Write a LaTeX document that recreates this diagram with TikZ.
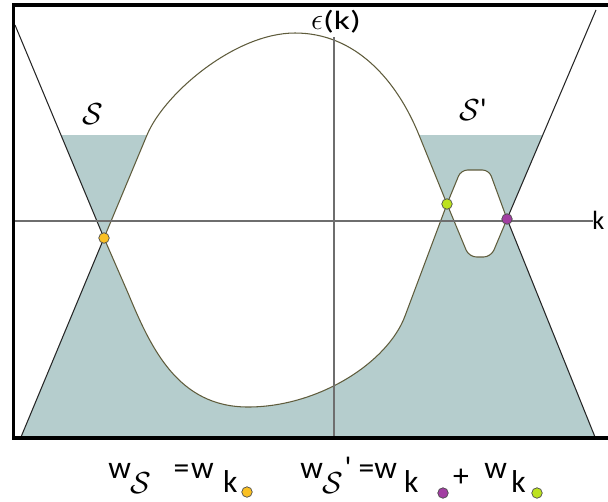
\documentclass[tikz,border=0pt]{standalone}
\usepackage{graphicx}
\usepackage{fontspec}
\setmainfont{Carlito}
\definecolor{shadegrey}{RGB}{181,205,205}
\definecolor{bandline}{RGB}{95,92,60}
\definecolor{axisgrey}{RGB}{110,110,110}
\definecolor{dotorange}{RGB}{250,192,35}
\definecolor{dotgreen}{RGB}{188,226,30}
\definecolor{dotpurple}{RGB}{162,62,162}
\newcommand\calS{\raisebox{-9pt}{\fontsize{17}{18}\selectfont$\mathcal{S}$}}
\newcommand\lowk{\raisebox{-8.5pt}{k}}
\tikzset{
  band/.style={draw=bandline,line width=0.6pt},
  outer/.style={draw=black!85,line width=0.6pt},
  axisline/.style={draw=axisgrey,line width=0.9pt},
  frameline/.style={draw=black,line width=1.8pt},
  spot/.style={circle,draw=black!70,line width=0.4pt,inner sep=0pt,minimum size=2.1mm},
  weight/.style={anchor=base west,inner sep=0pt,font=\fontsize{18}{20}\selectfont},
}
\begin{document}
\begin{tikzpicture}[x=0.02cm,y=-0.02cm]
\useasboundingbox (0,0) rectangle (608,501);
% crossing points
\coordinate (xo) at (104,238);
\coordinate (xg) at (447,204);
\coordinate (xp) at (507,219);
% occupied states below the level
\fill[shadegrey] (61,135) -- (543,135) -- (xp) -- (595,437) -- (21,437) -- (xo) -- cycle;
% big loop: dome and bowl
\filldraw[band,fill=white] (xo) -- (147,135) .. controls (164.3,93.5) and (235,33) .. (295,33)
  .. controls (355,33) and (396.4,79.4) .. (419,135) -- (xg) -- (405,316)
  .. controls (387.5,362.9) and (318,407) .. (248,407)
  .. controls (178,407) and (151,348.4) .. (128,293) -- cycle;
% small island between the two crossings
\filldraw[band,fill=white] (xg) [rounded corners=1.3mm] -- (461,170) -- (489,170) [sharp corners] -- (xp)
  [rounded corners=1.5mm] -- (491,257) -- (469,257) [sharp corners] -- cycle;
% outer branches
\draw[outer] (15,25) -- (xo);
\draw[outer] (21,437) -- (xo);
\draw[outer] (596,10) -- (xp);
\draw[outer] (595,437) -- (xp);
% axes and frame
\draw[axisline] (13,221) -- (593,221);
\draw[axisline] (334,37) -- (334,437);
\draw[frameline] (608,5) -- (13.5,5) -- (13.5,438) -- (608,438);
\node[inner sep=0pt] (eps) at (336,22) {{\fontsize{19}{20}\selectfont$\epsilon$}\scalebox{1.35}[1]{\fontsize{15}{18}\selectfont(k)}};
\node[anchor=west,inner sep=0pt] (kaxis) at (592,220) {\fontsize{15}{16}\selectfont k};
\node (sleft) at (93,114) {\fontsize{18}{20}\selectfont$\mathcal{S}$};
\node (sright) at (473,110) {\fontsize{18}{20}\selectfont$\mathcal{S}$\textquotesingle};
% marked crossings
\node[spot,fill=dotorange] (ko) at (xo) {};
\node[spot,fill=dotgreen] (kg) at (xg) {};
\node[spot,fill=dotpurple] (kp) at (xp) {};
% weights
\node[weight] (wsone) at (108,478) {w\calS\hspace{12.5pt}=\hspace{1pt}w\hspace{5.4pt}\lowk};
\node[weight] (wstwo) at (300,478) {w\calS\hspace{0.5pt}\textquotesingle\hspace{4pt}=w\hspace{4.2pt}\lowk\hspace{19.7pt}\raisebox{-5pt}{+}\hspace{8.7pt}w\hspace{2.5pt}\lowk};
\node[spot,fill=dotorange] (wo) at (247,492) {};
\node[spot,fill=dotpurple] (wp) at (443,493) {};
\node[spot,fill=dotgreen] (wg) at (537,493) {};
\end{tikzpicture}
\end{document}
